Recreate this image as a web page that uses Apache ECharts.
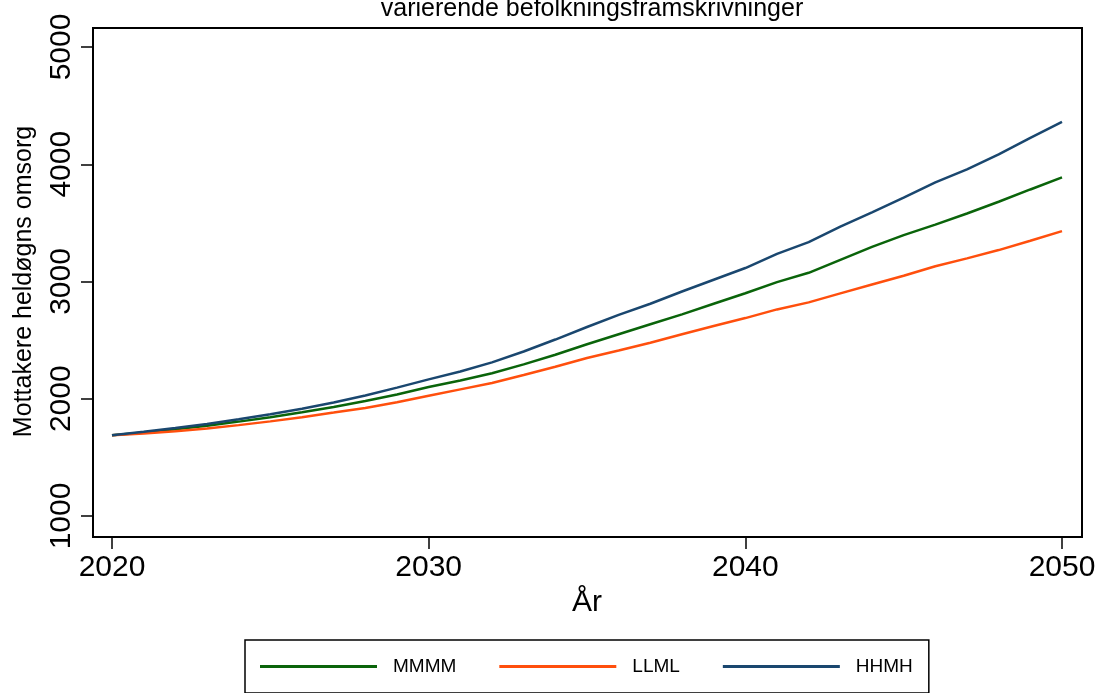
<!DOCTYPE html>
<html>
<head>
<meta charset="utf-8">
<script src="https://cdn.jsdelivr.net/npm/echarts@6/dist/echarts.min.js"></script>
<style>
html,body{margin:0;padding:0;background:#fff;}
#chart{width:1101px;height:693px;}
</style>
</head>
<body>
<div id="chart"></div>
<script>
const years = [2020,2021,2022,2023,2024,2025,2026,2027,2028,2029,2030,2031,2032,2033,2034,2035,2036,2037,2038,2039,2040,2041,2042,2043,2044,2045,2046,2047,2048,2049,2050];
const mmmm = [1688,1713,1740,1770,1805,1843,1885,1930,1980,2037,2100,2155,2218,2293,2375,2465,2550,2635,2720,2810,2900,2995,3074,3185,3295,3395,3485,3580,3680,3785,3888];
const llml = [1688,1703,1722,1746,1775,1807,1843,1882,1922,1970,2025,2080,2135,2202,2273,2348,2412,2478,2550,2620,2688,2762,2822,2899,2975,3049,3130,3197,3268,3347,3430];
const hhmh = [1688,1718,1750,1785,1825,1868,1915,1968,2028,2095,2165,2232,2310,2403,2505,2612,2715,2810,2915,3015,3115,3236,3336,3468,3590,3715,3845,3957,4085,4225,4361];
const seriesNames = ['MMMM','LLML','HHMH'];
const seriesColors = ['#0a640a','#ff4f0d','#1a476f'];
const xTicks = [2020,2030,2040,2050];
const yTicks = [1000,2000,3000,4000,5000];
const titleText = 'varierende befolkningsframskrivninger';
const xName = 'År';
const yName = 'Mottakere heldøgns omsorg';

const font = '"Liberation Sans", Arial, Helvetica, sans-serif';
const pairs = arr => years.map((y,i)=>[y,arr[i]]);
const allData = [mmmm, llml, hhmh];

const chart = echarts.init(document.getElementById('chart'));
chart.setOption({
  animation:false,
  backgroundColor:'#fff',
  title:{
    text:titleText, left:587, top:-8, textAlign:'center',
    textStyle:{fontFamily:font,fontSize:25,fontWeight:'normal',color:'#000'}
  },
  legend:{
    data:seriesNames, left:245, top:640,
    icon:'rect', itemWidth:117, itemHeight:3, itemGap:43,
    padding:[17,16,17,15],
    borderColor:'#000', borderWidth:1.5,
    textStyle:{fontFamily:font,fontSize:19,color:'#000',padding:[0,0,0,11]}
  },
  grid:[
    {left:112, top:47, width:950, height:469, show:false},
    {left:93, top:28, width:989, height:509, show:true, borderColor:'#000', borderWidth:2, backgroundColor:'transparent'}
  ],
  xAxis:[
    {type:'value', gridIndex:0, min:xTicks[0], max:xTicks[xTicks.length-1], interval:10,
     offset:21, position:'bottom',
     axisLine:{show:false}, splitLine:{show:false},
     axisTick:{show:true,length:12,lineStyle:{color:'#000',width:1.5}},
     axisLabel:{fontFamily:font,fontSize:30,color:'#000',margin:16,formatter:v=>String(v)},
     name:xName, nameLocation:'middle', nameGap:48,
     nameTextStyle:{fontFamily:font,fontSize:30,color:'#000'}},
    {type:'value', gridIndex:1, show:false}
  ],
  yAxis:[
    {type:'value', gridIndex:0, min:yTicks[0], max:yTicks[yTicks.length-1], interval:1000,
     offset:19, position:'left',
     axisLine:{show:false}, splitLine:{show:false},
     axisTick:{show:true,length:12,lineStyle:{color:'#000',width:1.5}},
     axisLabel:{fontFamily:font,fontSize:30,color:'#000',rotate:90,margin:16,formatter:v=>String(v)},
     name:yName, nameLocation:'middle', nameGap:56, nameRotate:90,
     nameTextStyle:{fontFamily:font,fontSize:25,color:'#000'}},
    {type:'value', gridIndex:1, show:false}
  ],
  series: seriesNames.map((n,i)=>({
    name:n, type:'line', xAxisIndex:0, yAxisIndex:0,
    data:pairs(allData[i]), showSymbol:false, symbol:'none',
    lineStyle:{color:seriesColors[i],width:2.5}, itemStyle:{color:seriesColors[i]},
    clip:false
  }))
});
</script>
</body>
</html>
